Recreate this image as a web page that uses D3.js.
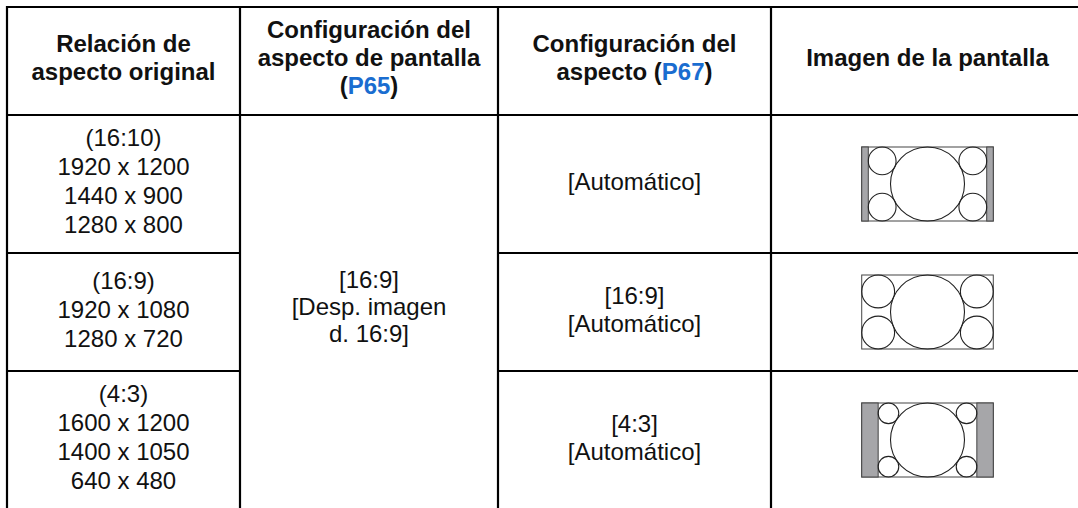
<!DOCTYPE html>
<html><head><meta charset="utf-8">
<script src="https://cdn.jsdelivr.net/npm/d3@7"></script>
<style>
html,body{margin:0;padding:0;background:#fff;}
svg{display:block;font-family:"Liberation Sans",Arial,Helvetica,sans-serif;}
</style>
</head><body>
<svg id="c" width="1078" height="508"></svg>
<script>
// ---------- data ----------
const headerLines = [
  ["Relación de", "aspecto original"],
  ["Configuración del", "aspecto de pantalla", "(P65)"],
  ["Configuración del", "aspecto (P67)"],
  ["Imagen de la pantalla"]
];
const pageRefs = ["P65", "P67"];
const originalRatio = [
  ["(16:10)", "1920 x 1200", "1440 x 900", "1280 x 800"],
  ["(16:9)", "1920 x 1080", "1280 x 720"],
  ["(4:3)", "1600 x 1200", "1400 x 1050", "640 x 480"]
];
const screenAspectSetting = ["[16:9]", "[Desp. imagen", "d. 16:9]"];
const aspectSetting = [
  ["[Automático]"],
  ["[16:9]", "[Automático]"],
  ["[4:3]", "[Automático]"]
];
const sourceAspect = [16 / 10, 16 / 9, 4 / 3];
const screenAspect = 16 / 9;

// ---------- layout ----------
const colWidths = [233, 258, 273, 313];
const rowHeights = [108, 138, 118, 138];
const tableLeft = 7, tableTop = 7;
const xEdges = [tableLeft, ...Array.from(d3.cumsum(colWidths), v => v + tableLeft)];
const yEdges = [tableTop, ...Array.from(d3.cumsum(rowHeights), v => v + tableTop)];
const colCenter = i => (xEdges[i] + xEdges[i + 1]) / 2;
const rowCenter = i => (yEdges[i] + yEdges[i + 1]) / 2;

const svg = d3.select("#c");
const FS = 24, capH = FS * 0.716;

function writeLines(g, lines, cx, cy, lh, bold) {
  const n = lines.length;
  lines.forEach((line, k) => {
    const capCenter = cy + (k - (n - 1) / 2) * lh;
    const t = g.append("text")
      .attr("x", cx).attr("y", capCenter + capH / 2)
      .attr("text-anchor", "middle")
      .attr("font-size", FS)
      .attr("font-weight", bold ? "bold" : "normal")
      .attr("fill", "#111");
    const ref = pageRefs.find(r => line.includes(r));
    if (ref) {
      const [a, b] = line.split(ref);
      t.append("tspan").text(a);
      t.append("tspan").attr("fill", "#1a6dd0").text(ref);
      t.append("tspan").text(b);
    } else {
      t.text(line);
    }
  });
}

// header
const hg = svg.append("g");
headerLines.forEach((lines, i) => writeLines(hg, lines, colCenter(i), rowCenter(0) - 4, 28, true));

// body
const bg = svg.append("g");
originalRatio.forEach((lines, r) => writeLines(bg, lines, colCenter(0), rowCenter(r + 1) - 3, 29, false));
writeLines(bg, screenAspectSetting, colCenter(1), (yEdges[1] + yEdges[4]) / 2 - 6, 27, false);
aspectSetting.forEach((lines, r) => writeLines(bg, lines, colCenter(2), rowCenter(r + 1) - 3, 28, false));

// screen images
const imgH = 74, imgW = imgH * screenAspect;
const ig = svg.append("g");
sourceAspect.forEach((asp, r) => {
  const cx = colCenter(3), cy = rowCenter(r + 1);
  const x0 = cx - imgW / 2, y0 = cy - imgH / 2;
  const innerW = imgH * asp;
  const barW = (imgW - innerW) / 2;
  const g = ig.append("g");
  g.append("rect").attr("x", x0).attr("y", y0).attr("width", imgW).attr("height", imgH)
    .attr("fill", "#fff").attr("stroke", "#444").attr("stroke-width", 1);
  if (barW > 0.5) {
    [x0, x0 + imgW - barW].forEach(bx => {
      g.append("rect").attr("x", bx).attr("y", y0).attr("width", barW).attr("height", imgH)
        .attr("fill", "#a6a6a9").attr("stroke", "#444").attr("stroke-width", 1);
    });
  }
  const ix = x0 + barW;
  const R = imgH / 2;
  const hw = innerW / 2;
  // (hw - r)^2 + (R - r)^2 = (R + r)^2 -> r^2 - (2hw + 4R) r + hw^2 = 0
  const bq = 2 * hw + 4 * R;
  const rr = (bq - Math.sqrt(bq * bq - 4 * hw * hw)) / 2;
  g.append("circle").attr("cx", ix + hw).attr("cy", y0 + R).attr("r", R)
    .attr("fill", "none").attr("stroke", "#222").attr("stroke-width", 1.1);
  [[ix + rr, y0 + rr], [ix + innerW - rr, y0 + rr], [ix + rr, y0 + imgH - rr], [ix + innerW - rr, y0 + imgH - rr]]
    .forEach(([px, py]) => g.append("circle").attr("cx", px).attr("cy", py).attr("r", rr)
      .attr("fill", "none").attr("stroke", "#222").attr("stroke-width", 1.1));
});

// grid lines
const lg = svg.append("g").attr("stroke", "#000").attr("stroke-width", 2.2);
const tableRight = xEdges[4];
yEdges.forEach((y, i) => {
  if (i === 2 || i === 3) {
    lg.append("line").attr("x1", xEdges[0] - 1).attr("x2", xEdges[1]).attr("y1", y).attr("y2", y);
    lg.append("line").attr("x1", xEdges[2]).attr("x2", tableRight + 1).attr("y1", y).attr("y2", y);
  } else {
    lg.append("line").attr("x1", xEdges[0] - 1).attr("x2", tableRight + 1).attr("y1", y).attr("y2", y);
  }
});
xEdges.forEach(x => lg.append("line").attr("x1", x).attr("x2", x).attr("y1", yEdges[0] - 1).attr("y2", yEdges[4] + 1));
</script>
</body></html>
